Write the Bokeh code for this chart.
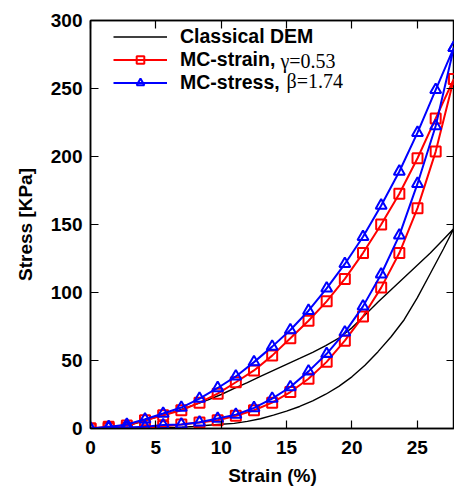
from bokeh.plotting import figure
from bokeh.models import Range1d, LinearAxis, Legend, LegendItem, Label, FixedTicker
from bokeh.embed import file_html
from bokeh.resources import INLINE

# ---- data ----
strain_pts = [0, 1.39, 2.78, 4.17, 5.56, 6.95, 8.34, 9.73, 11.12, 12.51, 13.9,
              15.29, 16.68, 18.07, 19.46, 20.85, 22.24, 23.63, 25.02, 26.41, 27.8]

mc_strain_load = [0, 0.3, 0.5, 0.8, 1.7, 2.9, 4.4, 6.1, 9.3, 13.4, 19.0,
                  26.8, 36.6, 49.0, 64.6, 82.4, 103.6, 129.0, 162.0, 203.6, 257.0]
mc_strain_unload = [0, 1.2, 2.2, 6.0, 9.8, 13.4, 19.0, 25.6, 34.0, 42.7, 53.6,
                    66.3, 79.2, 93.5, 110.0, 129.0, 150.0, 172.6, 198.7, 228.0, 257.0]

mc_stress_load = [0, 0.4, 0.7, 1.2, 2.5, 3.0, 4.6, 7.3, 10.2, 15.1, 22.0,
                  30.5, 42.0, 54.9, 70.7, 89.8, 113.4, 142.0, 180.0, 222.4, 280.0]
mc_stress_unload = [0, 1.2, 2.9, 6.8, 11.0, 15.4, 22.0, 29.8, 38.3, 48.8, 60.2,
                    72.4, 86.6, 103.0, 121.0, 141.0, 164.0, 189.0, 217.5, 249.0, 280.0]

dem_strain_l = [0, 2, 4, 5, 6, 7, 8, 9, 10, 11, 12, 13, 14, 15, 16, 17, 18, 19, 20,
                21, 22, 23, 24, 25, 26, 27, 27.8]
dem_load = [0, 0.05, 0.2, 0.4, 0.7, 1.0, 1.6, 2.4, 3.1, 3.8, 5.2, 7.2, 9.8, 12.8, 16.2,
            20.3, 25.2, 31.0, 38.0, 46.5, 56.5, 67.5, 80.0, 96.0, 114.0, 132.0, 147.0]
dem_strain_u = [0, 1, 2, 3, 4, 5, 6, 7, 8, 9, 10, 11, 12, 13, 14, 15, 16, 17, 18, 19,
                20, 21, 22, 23, 24, 25, 26, 27, 27.8]
dem_unload = [0, 0.2, 0.9, 2.6, 5.2, 8.2, 11.0, 14.2, 17.5, 21.0, 25.0, 29.5, 33.8,
              38.3, 42.8, 47.2, 51.5, 56.0, 61.0, 66.5, 74.0, 83.5, 93.0, 102.0, 111.0,
              120.0, 129.0, 139.0, 147.0]

x_ticks = [0, 5, 10, 15, 20, 25]
y_ticks = [0, 50, 100, 150, 200, 250, 300]

# loops: loading branch then unloading branch back
loop_x = strain_pts + strain_pts[::-1]
red_loop = mc_strain_load + mc_strain_unload[::-1]
blue_loop = mc_stress_load + mc_stress_unload[::-1]
dem_x = dem_strain_l + dem_strain_u[::-1]
dem_y = dem_load + dem_unload[::-1]

FONT = "Liberation Sans"
FS = "19px"

p = figure(width=454, height=488, output_backend="svg", toolbar_location=None,
           x_range=Range1d(0, 27.85), y_range=Range1d(0, 300),
           min_border_left=90, min_border_right=0, min_border_top=20, min_border_bottom=58)
p.grid.visible = False
p.outline_line_color = "black"
p.outline_line_width = 1.5
p.background_fill_color = "white"
p.border_fill_color = "white"

for ax in (p.xaxis[0], p.yaxis[0]):
    ax.major_label_text_font = FONT
    ax.major_label_text_font_style = "bold"
    ax.major_label_text_font_size = FS
    ax.major_label_text_color = "black"
    ax.axis_label_text_font = FONT
    ax.axis_label_text_font_style = "bold"
    ax.axis_label_text_font_size = FS
    ax.axis_label_text_color = "black"
    ax.major_tick_in = 8
    ax.major_tick_out = 0
    ax.minor_tick_in = 0
    ax.minor_tick_out = 0
    ax.axis_line_width = 1.5
    ax.major_tick_line_width = 1.2

p.xaxis[0].ticker = FixedTicker(ticks=x_ticks)
p.yaxis[0].ticker = FixedTicker(ticks=y_ticks)
p.xaxis[0].axis_label = "Strain (%)"
p.yaxis[0].axis_label = "Stress [KPa]"
p.xaxis[0].major_label_standoff = 12
p.xaxis[0].axis_label_standoff = 8
p.yaxis[0].major_label_standoff = 8
p.yaxis[0].axis_label_standoff = 12

top = LinearAxis(ticker=FixedTicker(ticks=x_ticks), major_label_text_font_size="0px",
                 major_tick_in=8, major_tick_out=0, minor_tick_in=0, minor_tick_out=0,
                 axis_line_width=1.5, major_tick_line_width=1.2)
right = LinearAxis(ticker=FixedTicker(ticks=y_ticks), major_label_text_font_size="0px",
                   major_tick_in=8, major_tick_out=0, minor_tick_in=0, minor_tick_out=0,
                   axis_line_width=1.5, major_tick_line_width=1.2)
p.add_layout(top, "above")
p.add_layout(right, "right")

r_dem = p.line(dem_x, dem_y, line_color="black", line_width=1.4)
r_red_l = p.line(loop_x, red_loop, line_color="red", line_width=2)
r_red_m = p.scatter(loop_x, red_loop, marker="square", size=10, line_color="red",
                    line_width=2, fill_color=None)
r_blue_l = p.line(loop_x, blue_loop, line_color="blue", line_width=2)
r_blue_m = p.scatter(loop_x, blue_loop, marker="triangle", size=11, line_color="blue",
                     line_width=2, fill_color=None)

legend = Legend(items=[
    LegendItem(label="Classical DEM", renderers=[r_dem]),
    LegendItem(label="MC-strain,", renderers=[r_red_l, r_red_m]),
    LegendItem(label="MC-stress,", renderers=[r_blue_l, r_blue_m]),
], location=(23, 410 - 18 - 58), border_line_color=None, background_fill_alpha=0,
    padding=0, margin=0, spacing=-6, glyph_width=54, glyph_height=19, label_height=19,
    label_standoff=13, label_text_font=FONT, label_text_font_style="bold",
    label_text_font_size="19.5px", label_text_color="black")
p.add_layout(legend, "center")

p.add_layout(Label(x=190, y=368, x_units="screen", y_units="screen", text="γ=0.53",
                   text_font="Liberation Serif", text_font_size="20px",
                   text_baseline="alphabetic", text_align="left", text_color="black"))
p.add_layout(Label(x=196, y=348, x_units="screen", y_units="screen", text="β=1.74",
                   text_font="Liberation Serif", text_font_size="20px",
                   text_baseline="alphabetic", text_align="left", text_color="black"))

open("out.html", "w").write(file_html(p, INLINE))
